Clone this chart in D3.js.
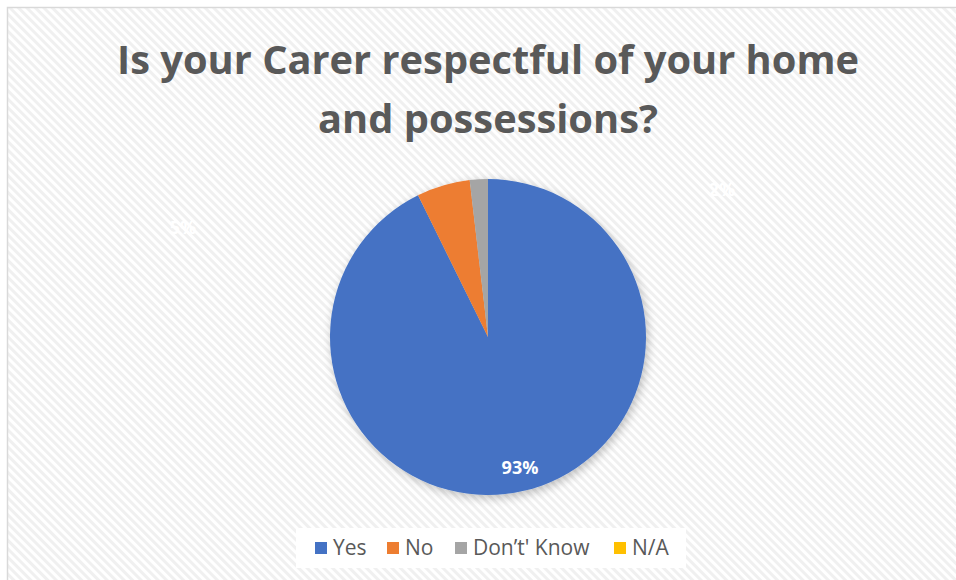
<!DOCTYPE html>
<html><head><meta charset="utf-8">
<script src="https://cdn.jsdelivr.net/npm/d3@7"></script>
<style>html,body{margin:0;padding:0;background:#fff;}svg{display:block;}</style>
</head><body>
<script>
const categories = ["Yes", "No", "Don\u2019t' Know", "N/A"];
const values = [92.7, 5.45, 1.85, 0];
const labels = ["93%", "5%", "2%", "0%"];
const colors = ["#4472c4", "#ed7d31", "#a5a5a5", "#ffc000"];
const titleLines = ["Is your Carer respectful of your home", "and possessions?"];

const W = 956, H = 580;
const svg = d3.select("body").append("svg").attr("width", W).attr("height", H);
const defs = svg.append("defs");
const pat = defs.append("pattern").attr("id", "hatch").attr("patternUnits", "userSpaceOnUse")
  .attr("width", 6).attr("height", 6).attr("patternTransform", "rotate(-45)");
pat.append("rect").attr("width", 6).attr("height", 6).attr("fill", "#ffffff");
pat.append("rect").attr("width", 3).attr("height", 6).attr("fill", "#f0f0f0");
const flt = defs.append("filter").attr("id", "shadow").attr("x", "-20%").attr("y", "-20%").attr("width", "140%").attr("height", "140%");
flt.append("feGaussianBlur").attr("in", "SourceAlpha").attr("stdDeviation", 5);
flt.append("feOffset").attr("dx", 2).attr("dy", 3).attr("result", "b");
flt.append("feComponentTransfer").append("feFuncA").attr("type", "linear").attr("slope", 0.25);
const merge = flt.append("feMerge");
merge.append("feMergeNode");
merge.append("feMergeNode").attr("in", "SourceGraphic");

svg.append("rect").attr("x", 7.5).attr("y", 7.5).attr("width", W).attr("height", H)
  .attr("fill", "url(#hatch)").attr("stroke", "#d9d9d9").attr("stroke-width", 1.5);

svg.append("g").selectAll("text").data(titleLines).join("text")
  .attr("x", 488).attr("y", (d, i) => 74 + i * 59)
  .attr("text-anchor", "middle")
  .attr("font-family", "'Open Sans', sans-serif").attr("font-weight", 700)
  .attr("font-size", 39.8).attr("fill", "#595959").text(d => d);

const cx = 488, cy = 337, r = 158;
const pie = d3.pie().sort(null).value(d => d)(values);
const arc = d3.arc().innerRadius(0).outerRadius(r);
const g = svg.append("g").attr("transform", `translate(${cx},${cy})`);
const sg = g.append("g").attr("filter", "url(#shadow)");
sg.selectAll("path").data(pie).join("path")
  .attr("d", arc).attr("fill", (d, i) => colors[i]);

// data labels (white, as in the original)
const labelPos = [[32, 137], [-305, -103], [234, -141]];
g.selectAll("text.lbl").data(pie.slice(0, 3)).join("text").attr("class", "lbl")
  .attr("x", (d, i) => labelPos[i][0]).attr("y", (d, i) => labelPos[i][1])
  .attr("text-anchor", "middle")
  .attr("font-family", "'Open Sans', sans-serif").attr("font-weight", 700)
  .attr("font-size", 18).attr("fill", "#ffffff").text((d, i) => labels[i]);

// legend
const lg = svg.append("g");
lg.append("rect").attr("x", 296).attr("y", 528).attr("width", 390).attr("height", 40).attr("fill", "#ffffff");
const itemX = [315, 387, 455, 614];
const items = lg.selectAll("g").data(categories).join("g")
  .attr("transform", (d, i) => `translate(${itemX[i]},542)`);
items.append("rect").attr("width", 12).attr("height", 12).attr("fill", (d, i) => colors[i]);
items.append("text").attr("x", 18).attr("y", 13)
  .attr("font-family", "'Open Sans', sans-serif").attr("font-size", 21)
  .attr("fill", "#595959").text(d => d);
</script>
</body></html>
